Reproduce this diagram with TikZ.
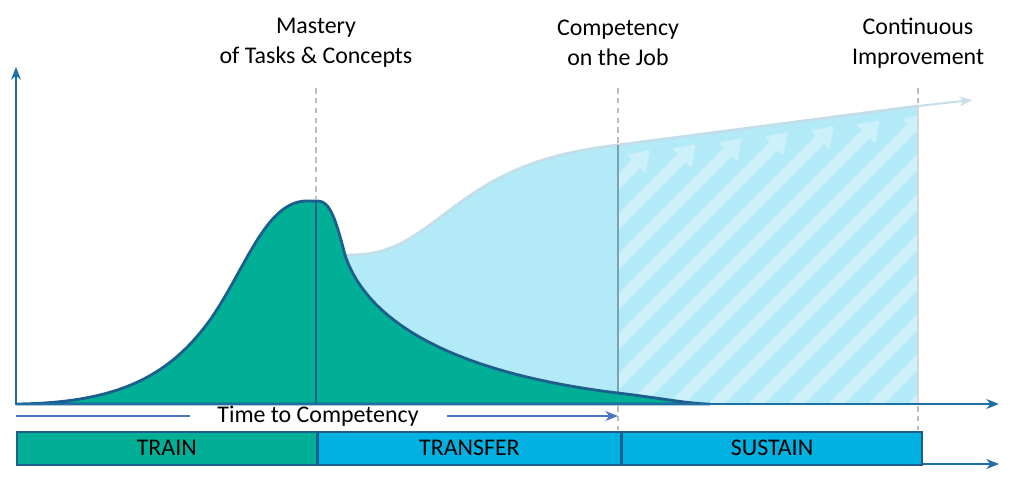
\documentclass[tikz,border=0pt]{standalone}
\usepackage{fontspec}
\setmainfont{Carlito}
\usetikzlibrary{arrows.meta,positioning}
\definecolor{traingreen}{HTML}{00AF96}
\definecolor{barblue}{HTML}{00B1E2}
\definecolor{lightfill}{HTML}{B2EAF7}
\definecolor{stripecol}{HTML}{CCF1FA}
\definecolor{topline}{HTML}{C3DDE9}
\definecolor{darkline}{HTML}{1D5F8C}
\definecolor{axiscol}{HTML}{1E6FA5}
\definecolor{timecol}{HTML}{4A74C4}
\definecolor{dashcol}{HTML}{BDBDBD}
\begin{document}
\begin{tikzpicture}[x=0.025cm,y=-0.025cm,
  axis line/.style={draw=axiscol,line width=1.5pt,-{Stealth[length=9pt,width=7pt]}},
  guide/.style={draw=dashcol,line width=1.4pt,dash pattern=on 4pt off 3pt},
  stage label/.style={font=\fontsize{17}{21}\selectfont,align=center},
  phase bar/.style={draw=darkline,line width=1.1pt,minimum height=0.825cm,inner sep=0pt,font=\fontsize{17}{18}\selectfont}]
\useasboundingbox (0,0) rectangle (1024,489);
%light blue region
  \fill[lightfill] (345,255) .. controls (390,256) and (410,240) .. (450,210)
    .. controls (490,180) and (530,155) .. (618,145) -- (918,106) -- (918,404) -- (345,404) -- cycle;
%stripes
  \begin{scope}
    \clip (618,145) -- (918,106) -- (918,404) -- (618,404) -- cycle;
    \foreach \c in {760,800,...,1360} {
      \pgfmathsetmacro\tx{(\c-225)/0.87-11}
      \pgfmathsetmacro\ty{\c-\tx}
      \draw[stripecol,line width=8.5pt,-{Triangle[length=14pt,width=18pt]}]
        (\tx-500,\ty+500) -- (\tx,\ty);
    }
  \end{scope}
  \draw[topline,line width=2pt] (345,255) .. controls (390,256) and (410,240) .. (450,210)
    .. controls (490,180) and (530,155) .. (618,145) -- (918,106);
  \draw[topline!80!axiscol!60,line width=1.4pt,-{Stealth[length=9pt,width=7pt]}] (918,106) -- (972,100);
  \draw[axiscol!40!dashcol,line width=1.2pt] (618,145) -- (618,395);
  \draw[dashcol!60,line width=1pt] (918,106) -- (918,404);
%green curve
  \filldraw[fill=traingreen,draw=darkline,line width=2pt]
    (16,404) .. controls (120,403) and (170,375) .. (210,320)
    .. controls (245,270) and (265,203) .. (305,201) -- (318,201)
    .. controls (330,201) and (336,220) .. (345,255)
    .. controls (370,330) and (470,375) .. (618,393)
    .. controls (660,398) and (690,404) .. (710,404) -- cycle;
  \draw[darkline,line width=1.6pt] (316,201) -- (316,404);
%guides
  \draw[guide] (316,88) -- (316,199);
  \draw[guide] (618,88) -- (618,144);
  \draw[guide] (918,88) -- (918,105);
  \draw[guide] (618,406) -- (618,430);
  \draw[guide] (918,406) -- (918,430);
%axes
  \draw[axis line] (16,405) -- (16,67);
  \draw[axis line] (16,404) -- (999,404);
  \draw[axis line] (16,464) -- (999,464);
%labels
  \node[stage label] (mastery) at (316,43) {Mastery\\of Tasks \& Concepts};
  \node[stage label] (competency) at (618,43) {Competency\\on the Job};
  \node[stage label] (improve) at (918,43) {Continuous\\Improvement};
%time to competency
  \node[font=\fontsize{17}{20}\selectfont,inner sep=0pt] (time) at (318,416) {Time to Competency};
  \coordinate (tstart) at (16,416);
  \coordinate (tend) at (618,416);
  \draw[timecol,line width=2pt] (tstart) -- (190,416);
  \draw[timecol,line width=2pt,-{Stealth[length=9pt,width=7pt]}] (447,416) -- (tend);
%phases
  \node[phase bar,fill=traingreen,minimum width=7.5cm,anchor=north west] (train) at (16,431) {TRAIN};
  \node[phase bar,fill=barblue,minimum width=7.55cm,right=0pt of train] (transfer) {TRANSFER};
  \node[phase bar,fill=barblue,minimum width=7.5cm,right=0pt of transfer] (sustain) {SUSTAIN};
\end{tikzpicture}
\end{document}
